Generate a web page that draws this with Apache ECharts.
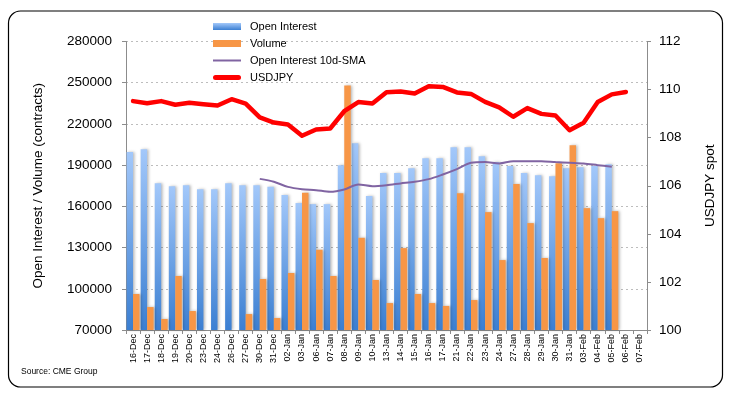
<!DOCTYPE html>
<html>
<head>
<meta charset="utf-8">
<script src="https://cdn.jsdelivr.net/npm/echarts@6/dist/echarts.min.js"></script>
<style>
html,body{margin:0;padding:0;background:#fff;}
#chart{width:732px;height:397px;}
</style>
</head>
<body>
<div id="chart"></div>
<script>
const categories = ['16-Dec','17-Dec','18-Dec','19-Dec','20-Dec','23-Dec','24-Dec','26-Dec','27-Dec','30-Dec','31-Dec','02-Jan','03-Jan','06-Jan','07-Jan','08-Jan','09-Jan','10-Jan','13-Jan','14-Jan','15-Jan','16-Jan','17-Jan','21-Jan','22-Jan','23-Jan','24-Jan','27-Jan','28-Jan','29-Jan','30-Jan','31-Jan','03-Feb','04-Feb','05-Feb','06-Feb','07-Feb'];
const openInterest = [199500,201600,176900,174700,175400,172500,172500,176900,175400,175400,174200,168200,162400,161600,161600,190000,206000,167500,184200,184200,187800,195100,195100,203100,203100,196500,192200,189300,184200,182700,182000,187800,188500,189300,190700,null,null];
const volume = [96200,86700,78000,109300,83800,null,null,null,81600,107100,78700,111500,169900,128400,109300,248000,137100,106400,89600,129600,96200,89600,87500,169600,91800,155800,120900,176200,147800,122400,191400,204500,158700,151400,156500,null,null];
const oiSma10 = [null,null,null,null,null,null,null,null,null,180000,177900,174200,172500,171800,170600,172300,175900,174700,175400,176700,177900,179800,183200,187100,191700,192200,191200,192900,192900,192900,192200,191700,191200,190000,188800,null,null];
const usdjpy = [109.52,109.43,109.52,109.37,109.45,109.39,109.34,109.60,109.42,108.84,108.63,108.55,108.08,108.34,108.38,109.10,109.48,109.42,109.89,109.92,109.84,110.14,110.11,109.88,109.82,109.49,109.26,108.87,109.23,108.99,108.92,108.31,108.62,109.48,109.80,109.90,null];
const leftTicks = [70000,100000,130000,160000,190000,220000,250000,280000];
const rightTicks = [100,102,104,106,108,110,112];
const seriesNames = ['Open Interest','Volume','Open Interest 10d-SMA','USDJPY'];

const FONT = "'Liberation Sans', Arial, sans-serif";
const chart = echarts.init(document.getElementById('chart'), null, {renderer:'canvas'});
const blueGrad = new echarts.graphic.LinearGradient(0,0,0,1,[
  {offset:0,color:'#a3c8fa'},{offset:1,color:'#3b7fd2'}]);

chart.setOption({
  animation:false,
  backgroundColor:'#fff',
  textStyle:{fontFamily:FONT},
  grid:{left:126,right:85,top:41.5,bottom:67,containLabel:false},
  legend:{
    orient:'vertical', left:208, top:15, itemGap:4, itemWidth:28, itemHeight:7,
    symbolKeepAspect:true,
    textStyle:{fontSize:11,color:'#000',fontFamily:FONT,lineHeight:13, padding:[0,0,0,4]},
    data:[
      {name:seriesNames[0],icon:'rect',itemStyle:{color:blueGrad}},
      {name:seriesNames[1],icon:'rect'},
      {name:seriesNames[2],icon:'path://M0,0h28v2h-28z',itemStyle:{color:'#8064a2'}},
      {name:seriesNames[3],icon:'path://M2.5,0h23a2.5,2.5,0,0,1,0,5h-23a2.5,2.5,0,0,1,0,-5z',itemStyle:{color:'#ff0000'}}
    ]
  },
  xAxis:{
    type:'category', data:categories, boundaryGap:true,
    axisLine:{lineStyle:{color:'#8c8c8c',width:1}},
    axisTick:{show:true,interval:0,length:4,lineStyle:{color:'#8c8c8c'}},
    axisLabel:{interval:0,rotate:90,fontSize:9,color:'#000',margin:4,fontFamily:"'Liberation Sans Narrow','Liberation Sans',sans-serif"}
  },
  yAxis:[
    {
      type:'value', min:leftTicks[0], max:leftTicks[leftTicks.length-1], interval:leftTicks[1]-leftTicks[0],
      name:'Open Interest / Volume (contracts)', nameLocation:'middle', nameGap:81,
      nameTextStyle:{fontSize:13.5,color:'#000',fontFamily:FONT},
      axisLine:{show:true,lineStyle:{color:'#8c8c8c'}},
      axisTick:{show:true,length:4,lineStyle:{color:'#8c8c8c'}},
      axisLabel:{fontSize:13.5,color:'#000',margin:14,formatter:v=>String(v)},
      splitLine:{show:true,lineStyle:{color:'#bdbdbd',type:[2,3],width:1}}
    },
    {
      type:'value', min:rightTicks[0], max:rightTicks[rightTicks.length-1], interval:rightTicks[1]-rightTicks[0],
      name:'USDJPY spot', nameLocation:'middle', nameGap:56,
      nameTextStyle:{fontSize:13.5,color:'#000',fontFamily:FONT},
      axisLine:{show:true,lineStyle:{color:'#8c8c8c'}},
      axisTick:{show:true,length:4,lineStyle:{color:'#8c8c8c'}},
      axisLabel:{fontSize:13.5,color:'#000',margin:12,formatter:v=>String(v)},
      splitLine:{show:false}
    }
  ],
  series:[
    {name:seriesNames[0],type:'bar',data:openInterest,barGap:'0%',barCategoryGap:'8%',
     itemStyle:{color:blueGrad,shadowColor:'rgba(0,0,0,0.28)',shadowBlur:3,shadowOffsetX:1.5},z:2},
    {name:seriesNames[1],type:'bar',data:volume,
     itemStyle:{color:'#f79646',shadowColor:'rgba(0,0,0,0.28)',shadowBlur:3,shadowOffsetX:1.5},z:2},
    {name:seriesNames[2],type:'line',data:oiSma10,symbol:'none',smooth:0.3,connectNulls:false,
     lineStyle:{color:'#8064a2',width:2},itemStyle:{color:'#8064a2'},z:3},
    {name:seriesNames[3],type:'line',yAxisIndex:1,data:usdjpy,symbol:'none',
     lineStyle:{color:'#ff0000',width:4.5,cap:'round',join:'round'},itemStyle:{color:'#ff0000'},z:4}
  ],
  graphic:[
    {type:'rect',shape:{x:8.5,y:11,width:714,height:376,r:12},
     style:{fill:null,stroke:'#000',lineWidth:1.2},silent:true,z:0},
    {type:'text',left:21,top:367,style:{text:'Source: CME Group',font:"8.5px 'Liberation Sans', Arial, sans-serif",fill:'#000'}}
  ]
});
</script>
</body>
</html>
